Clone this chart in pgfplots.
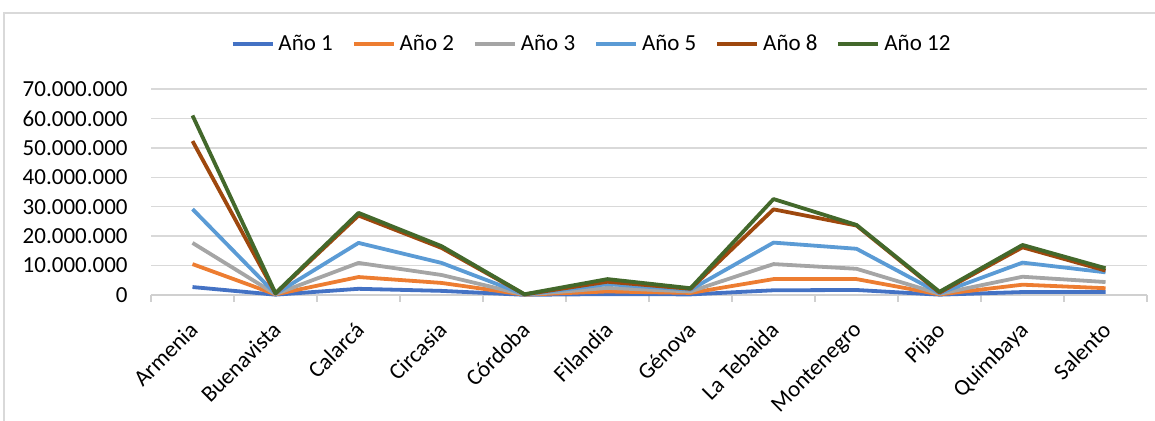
\documentclass[border=0pt]{standalone}
\usepackage{pgfplots}
\pgfplotsset{compat=1.18}
\usepackage{fontspec}
\setmainfont{Carlito}
\definecolor{c1}{HTML}{4472C4}
\definecolor{c2}{HTML}{ED7D31}
\definecolor{c3}{HTML}{A5A5A5}
\definecolor{c5}{HTML}{5B9BD5}
\definecolor{c8}{HTML}{9E480E}
\definecolor{c12}{HTML}{43682B}
\definecolor{gridgray}{HTML}{D9D9D9}
\definecolor{axgray}{HTML}{D0D0D0}
\begin{document}
\begin{tikzpicture}[x=0.5bp,y=0.5bp]
\useasboundingbox (0,0) rectangle (1155,421);
\draw[gridgray, line width=1bp] (4,-5) -- (4,408) -- (1160,408);
\begin{axis}[
  at={(75.5bp,63bp)}, anchor=south west,
  scale only axis, width=498bp, height=103bp,
  xmin=-0.5, xmax=11.5, ymin=0, ymax=70000000,
  clip=false, scaled y ticks=false,
  axis x line*=bottom, axis y line*=left,
  x axis line style={draw=axgray, line width=0.75bp, -},
  y axis line style={draw=none},
  ytick={0,10000000,20000000,30000000,40000000,50000000,60000000,70000000},
  yticklabels={0,10.000.000,20.000.000,30.000.000,40.000.000,50.000.000,60.000.000,70.000.000},
  ymajorgrids, grid style={draw=gridgray, line width=0.75bp},
  ytick style={draw=none},
  xtick={0,...,11},
  xticklabels={Armenia,Buenavista,Calarcá,Circasia,Córdoba,Filandia,Génova,La Tebaida,Montenegro,Pijao,Quimbaya,Salento},
  major x tick style={draw=none},
  minor xtick={-0.5,0.5,...,11.5},
  minor x tick style={draw=axgray, line width=0.75bp},
  minor tick length=3.5bp, xtick align=outside,
  tick label style={font=\fontsize{11.5bp}{13bp}\selectfont},
  yticklabel style={anchor=east, inner sep=0pt, xshift=-11.5bp},
  xticklabel style={rotate=45, anchor=north east, inner sep=0pt, yshift=-4.2bp, xshift=-7.4bp},
  legend columns=6,
  legend style={draw=none, fill=none, at={(0.4413,1.2184)}, anchor=center,
    font=\fontsize{11.5bp}{13bp}\selectfont, inner sep=0pt,
    nodes={inner sep=0pt},
    /tikz/every odd column/.style={column sep=2bp},
    /tikz/every even column/.style={column sep=9.5bp}},
  legend image code/.code={\draw[#1] (0bp,0bp) -- (20bp,0bp);},
  every axis plot/.append style={line width=1.9bp, line join=round, mark=none},
]
\addplot[c1] coordinates {(0,2700000) (1,100000) (2,2100000) (3,1400000) (4,50000) (5,300000) (6,200000) (7,1600000) (8,1700000) (9,100000) (10,1000000) (11,1000000)};
\addplot[c2] coordinates {(0,10500000) (1,200000) (2,6100000) (3,4100000) (4,100000) (5,1200000) (6,700000) (7,5400000) (8,5400000) (9,200000) (10,3500000) (11,2300000)};
\addplot[c3] coordinates {(0,17700000) (1,300000) (2,10900000) (3,6800000) (4,100000) (5,2400000) (6,1200000) (7,10500000) (8,8900000) (9,400000) (10,6200000) (11,4400000)};
\addplot[c5] coordinates {(0,29200000) (1,400000) (2,17700000) (3,10900000) (4,150000) (5,3700000) (6,1800000) (7,17800000) (8,15700000) (9,600000) (10,11000000) (11,7700000)};
\addplot[c8] coordinates {(0,52300000) (1,500000) (2,27000000) (3,16000000) (4,200000) (5,4500000) (6,2100000) (7,29100000) (8,23600000) (9,800000) (10,16200000) (11,8300000)};
\addplot[c12] coordinates {(0,61000000) (1,600000) (2,27900000) (3,16600000) (4,250000) (5,5400000) (6,2300000) (7,32600000) (8,23800000) (9,1100000) (10,17000000) (11,9100000)};
\legend{Año 1,Año 2,Año 3,Año 5,Año 8,Año 12}
\end{axis}
\end{tikzpicture}
\end{document}
